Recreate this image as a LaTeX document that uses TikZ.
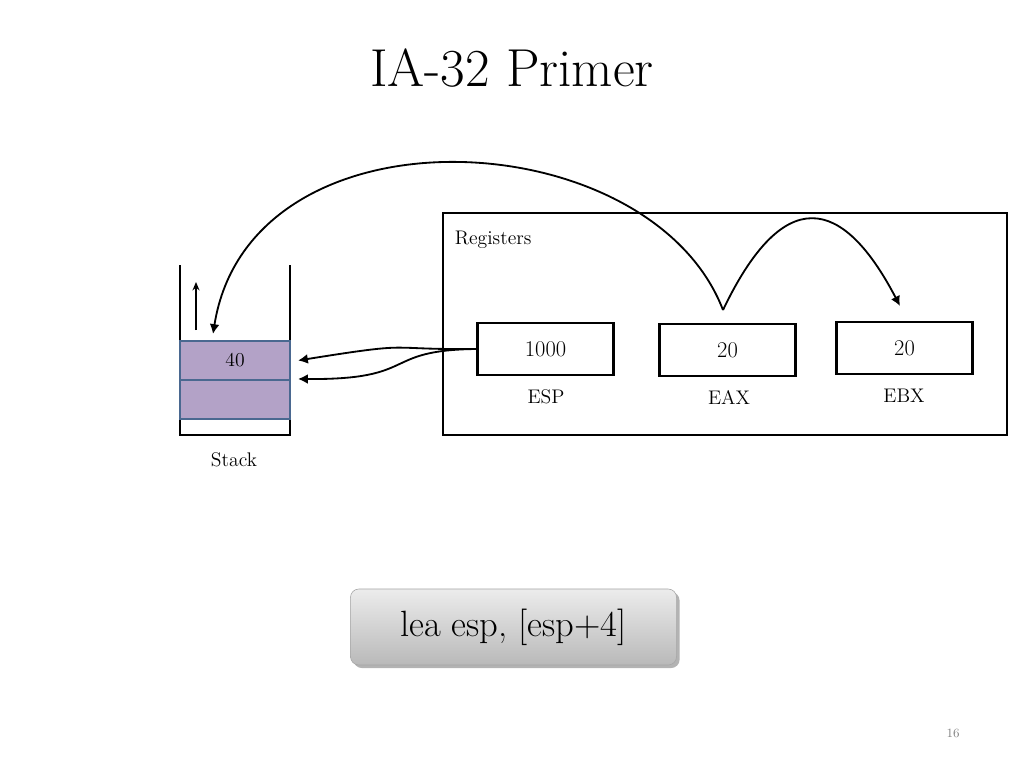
\documentclass[tikz,border=0pt]{standalone}
\usepackage{xcolor}
\usetikzlibrary{shadows}
\definecolor{cellfill}{HTML}{B3A2C7}
\definecolor{celledge}{HTML}{4A6890}
\tikzset{
	reg/.style={draw, line width=1.5pt, minimum width=3.4cm, minimum height=1.3cm, font=\fontsize{16}{18}\selectfont},
	cell/.style={draw=celledge, line width=1.5pt, fill=cellfill, minimum width=2.75cm, minimum height=0.975cm, font=\fontsize{14}{16}\selectfont},
	lbl/.style={font=\fontsize{14}{16}\selectfont},
	arr/.style={line width=1.3pt, -{Latex[length=7pt,width=7pt]}},
}
\usetikzlibrary{arrows.meta}
\begin{document}
\begin{tikzpicture}[x=0.025cm, y=-0.025cm]
	\useasboundingbox (0,0) rectangle (1024,768);

	\node[font=\fontsize{38}{40}\selectfont] (title) at (512,68) {IA-32 Primer};

	% stack
	\draw[line width=1.5pt] (180,265) -- (180,435) -- (290,435) -- (290,265);
	\node[cell] (c1) at (235,360.5) {40};
	\node[cell] (c2) at (235,399.5) {};
	\coordinate (up1) at (196,330);
	\coordinate (up2) at (196,282);
	\draw[line width=1.3pt, -{Stealth[length=6pt,width=5pt]}] (up1) -- (up2);
	\node[lbl] (stack) at (234,460) {Stack};

	% registers
	\node[draw, line width=1.5pt, minimum width=14.1cm, minimum height=5.55cm] (regs) at (725,324) {};
	\node[lbl, anchor=west] (rlbl) at (450,240) {Registers};
	\node[reg] (esp) at (545.5,349) {1000};
	\node[reg] (eax) at (727.5,350) {20};
	\node[reg] (ebx) at (904.5,348) {20};
	\node[lbl] at (546,397) {ESP};
	\node[lbl] at (729,397) {EAX};
	\node[lbl] at (904,396) {EBX};

	% arrows
	\draw[arr] (esp.west) .. controls (380,350) and (420,341) .. (c1.east -| 298,0);
	\draw[arr] (esp.west) .. controls (380,350) and (420,380) .. (c2.north east -| 298,0);
	\coordinate (src) at (723,310);
	\draw[arr] (src) .. controls (650,120) and (250,100) .. (213,334);
	\draw[arr] (src) .. controls (790,170) and (850,210) .. (900,306);

	% instruction button
	\node[draw=gray!70, rounded corners=6pt, top color=gray!15, bottom color=gray!55,
		drop shadow={opacity=0.6}, minimum width=8.15cm, minimum height=1.9cm,
		font=\fontsize{26}{28}\selectfont] (instr) at (513.5,627) {lea esp, [esp+4]};

	\node[font=\fontsize{9}{10}\selectfont, text=gray] (page) at (953,733) {16};
\end{tikzpicture}
\end{document}
